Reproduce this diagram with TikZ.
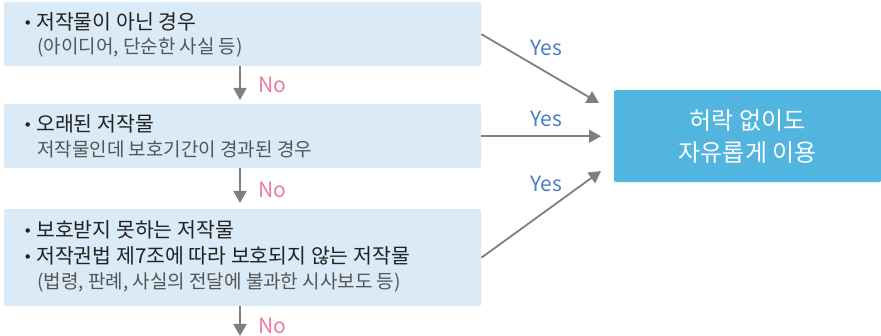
\documentclass[tikz,border=0pt]{standalone}
\usepackage{fontspec}
\setmainfont{Noto Sans CJK KR}
\usetikzlibrary{arrows.meta}
\definecolor{boxbg}{HTML}{DAEAF6}
\definecolor{rbox}{HTML}{52B5DF}
\definecolor{arrgray}{HTML}{7F7F80}
\definecolor{nopink}{HTML}{EE7A9B}
\definecolor{yesblue}{HTML}{4A7DC4}
\definecolor{txtdark}{HTML}{222222}
\definecolor{txtgray}{HTML}{555555}
\begin{document}
\begin{tikzpicture}[x=1pt,y=-1pt,
  lbox/.style={fill=boxbg, draw=none, rounded corners=1.5pt, anchor=north west, inner sep=0pt},
  mainline/.style={anchor=west, inner sep=0pt, text=txtdark, font=\fontsize{20.5}{24}\selectfont},
  subline/.style={anchor=west, inner sep=0pt, text=txtgray, font=\fontsize{19}{23}\selectfont},
  bul/.style={circle, fill=txtdark, inner sep=0pt, minimum size=4.5pt},
  arr/.style={draw=arrgray, line width=1.8pt, -{Triangle[length=12pt,width=13pt]}},
  nolab/.style={anchor=west, inner sep=0pt, text=nopink, font=\fontsize{21}{24}\selectfont},
  yeslab/.style={inner sep=0pt, text=yesblue, font=\fontsize{21}{24}\selectfont}]
\useasboundingbox (0,0) rectangle (881,336);
% boxes
\node[lbox, minimum width=477pt, minimum height=64pt] (b1) at (4,2) {};
\node[lbox, minimum width=477pt, minimum height=64pt] (b2) at (4,104) {};
\node[lbox, minimum width=477pt, minimum height=97pt] (b3) at (4,209) {};
\node[fill=rbox, rounded corners=1.5pt, anchor=north west, inner sep=0pt,
      minimum width=267pt, minimum height=92pt] (r) at (614,90) {};
% bullets
\node[bul] (u1) at (27.7,22.5) {};
\node[bul] (u2) at (27.7,124.5) {};
\node[bul] (u3) at (27.7,230.5) {};
\node[bul] (u4) at (27.7,256.5) {};
% texts
\node[mainline] (t11) at (36,22) {저작물이 아닌 경우};
\node[subline] (t12) at (37,48) {(아이디어, 단순한 사실 등)};
\node[mainline] (t21) at (36,124) {오래된 저작물};
\node[subline] (t22) at (37,149) {저작물인데 보호기간이 경과된 경우};
\node[mainline] (t31) at (36,230) {보호받지 못하는 저작물};
\node[mainline] (t32) at (36,256) {저작권법 제7조에 따라 보호되지 않는 저작물};
\node[subline] (t33) at (37,283) {(법령, 판례, 사실의 전달에 불과한 시사보도 등)};
\node[text=white, align=center, inner sep=0pt, font=\fontsize{24}{32}\selectfont] (rt) at (r.center) {허락 없이도\\자유롭게 이용};
% coordinates
\coordinate (ax) at (240,0);
\coordinate (endc) at (240,336);
\coordinate (tip1) at (599,103);
\coordinate (tip3) at (601,171);
% down arrows
\draw[arr, shorten >=4pt] (b1.south -| ax) -- (b2.north -| ax);
\draw[arr, shorten >=6pt] (b2.south -| ax) -- (b3.north -| ax);
\draw[arr] (b3.south -| ax) -- (endc);
\node[nolab] (n1) at (258,85) {No};
\node[nolab] (n2) at (258,190) {No};
\node[nolab] (n3) at (258,326) {No};
% yes arrows
\draw[arr] (b1.east) -- (tip1);
\draw[arr, shorten >=13pt] (b2.east) -- (r.west);
\draw[arr] (b3.east) -- (tip3);
\node[yeslab] (y1) at (546,48) {Yes};
\node[yeslab] (y2) at (546,119) {Yes};
\node[yeslab] (y3) at (546,184) {Yes};
\end{tikzpicture}
\end{document}
